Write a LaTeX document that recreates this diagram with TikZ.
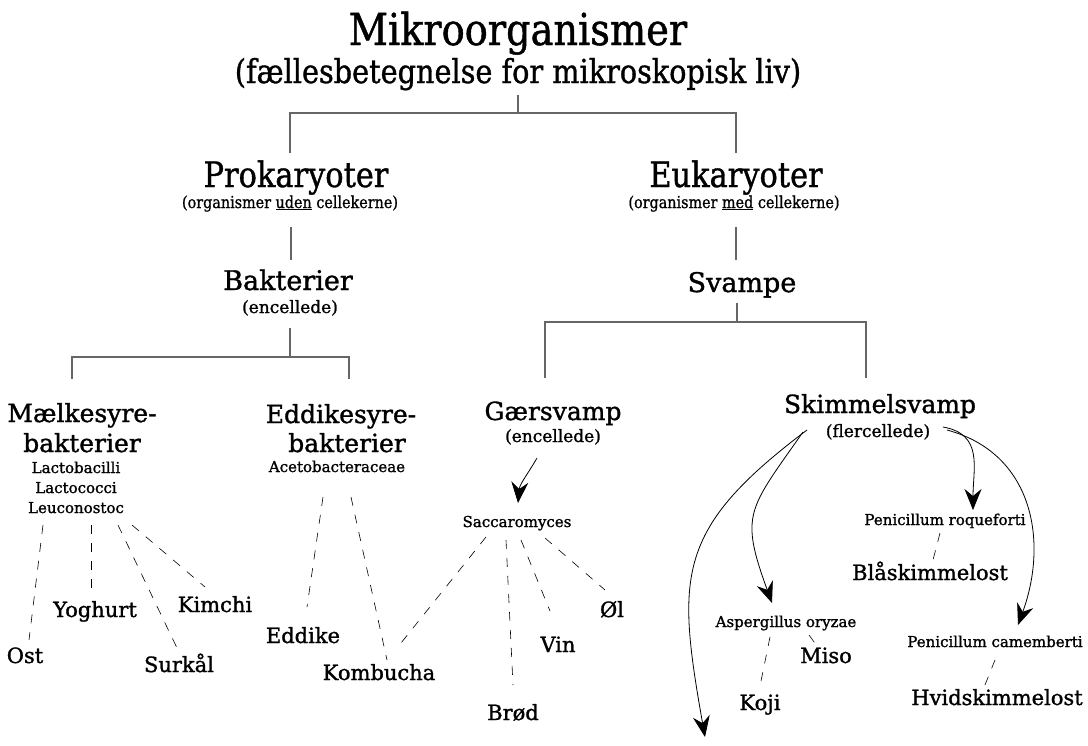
\documentclass[tikz,border=0pt]{standalone}
\usepackage{fontspec}
\setmainfont{DejaVu Serif}[FakeBold=1.3]
\newfontfamily\condserif[FakeStretch=0.87,FakeBold=1.0]{DejaVu Serif}
\usetikzlibrary{arrows.meta}

\begin{document}
\begin{tikzpicture}[x=1pt, y=1pt, every node/.style={inner sep=1pt},
		titel/.style={anchor=base, font=\condserif\fontsize{44}{50}\selectfont},
		titelsub/.style={anchor=base, font=\condserif\fontsize{33}{38}\selectfont},
		rige/.style={anchor=base, font=\condserif\fontsize{35}{40}\selectfont},
		rigesub/.style={anchor=base, font=\condserif\fontsize{16.5}{20}\selectfont},
		klasse/.style={anchor=base, font=\fontsize{27}{32}\selectfont},
		gruppe/.style={anchor=base, font=\fontsize{25}{30}\selectfont},
		gruppesub/.style={anchor=base, font=\fontsize{17}{20}\selectfont},
		art/.style={anchor=base, font=\fontsize{15}{18}\selectfont},
		mad/.style={anchor=base, font=\fontsize{21}{25}\selectfont},
		tree/.style={draw=black!60, line width=1.3pt},
		pil/.style={draw, line width=0.8pt, -{Stealth[length=21pt,width=17pt,inset=7pt]}},
		stiplet/.style={draw, line width=0.6pt, dash pattern=on 9pt off 9pt}]
		\useasboundingbox (0,0) rectangle (1088,-745);

		% overskrift
		\node[titel] (mikro) at (518,-45) {Mikroorganismer};
		\node[titelsub] (mikrosub) at (518,-83) {(fællesbetegnelse for mikroskopisk liv)};

		\node[rige] (prok) at (296,-187) {Prokaryoter};
		\node[rigesub] (proksub) at (290,-208) {(organismer \underline{uden} cellekerne)};
		\node[rige] (euk) at (736,-187) {Eukaryoter};
		\node[rigesub] (euksub) at (734,-208) {(organismer \underline{med} cellekerne)};

		\node[klasse] (bakt) at (288,-290) {Bakterier};
		\node[gruppesub] (baktsub) at (290,-313) {(encellede)};
		\node[klasse] (svampe) at (742,-292) {Svampe};

		% bakterier
		\node[gruppe] (maelk1) at (82,-422) {Mælkesyre-};
		\node[gruppe] (maelk2) at (82,-452) {bakterier};
		\node[art] (lacto1) at (76,-473) {Lactobacilli};
		\node[art] (lacto2) at (76,-493) {Lactococci};
		\node[art] (leuco) at (76,-513) {Leuconostoc};

		\node[gruppe] (eddik1) at (341,-423) {Eddikesyre-};
		\node[gruppe] (eddik2) at (347,-452) {bakterier};
		\node[art] (aceto) at (337,-472) {Acetobacteraceae};

		% svampe
		\node[gruppe] (gaer) at (553,-420) {Gærsvamp};
		\node[gruppesub] (gaersub) at (553,-442) {(encellede)};
		\node[art] (sacc) at (517,-527) {Saccaromyces};

		\node[gruppe] (skim) at (880,-413) {Skimmelsvamp};
		\node[gruppesub] (skimsub) at (878,-437) {(flercellede)};
		\node[art] (roq) at (945,-525) {Penicillum roqueforti};
		\node[art] (asp) at (786,-627) {Aspergillus oryzae};
		\node[art] (cam) at (995,-647) {Penicillum camemberti};
		\coordinate (ende) at (705,-737);

		% produkter
		\node[mad] (ost) at (25,-663) {Ost};
		\node[mad] (yog) at (95,-617) {Yoghurt};
		\node[mad] (kim) at (215,-612) {Kimchi};
		\node[mad] (sur) at (179,-672) {Surkål};
		\node[mad] (eddike) at (303,-643) {Eddike};
		\node[mad] (komb) at (379,-680) {Kombucha};
		\node[mad] (brod) at (513,-720) {Brød};
		\node[mad] (vin) at (558,-652) {Vin};
		\node[mad] (oel) at (612,-617) {Øl};
		\node[mad] (blaa) at (930,-580) {Blåskimmelost};
		\node[mad] (miso) at (826,-663) {Miso};
		\node[mad] (koji) at (760,-710) {Koji};
		\node[mad] (hvid) at (997,-705) {Hvidskimmelost};

		% stamtrae
		\draw[tree] ([yshift=-12pt]mikrosub.base) -- ++(0,-18) coordinate (split1);
		\draw[tree] ([xshift=-6pt,yshift=34pt]prok.base) |- (split1) -| ([yshift=34pt]euk.base);
		\draw[tree] ([xshift=1pt,yshift=-19pt]proksub.base) -- ([xshift=3pt,yshift=30pt]bakt.base);
		\draw[tree] ([xshift=2pt,yshift=-19pt]euksub.base) -- ([xshift=-6pt,yshift=32pt]svampe.base);
		\draw[tree] (baktsub.base) ++(0,-15) -- ++(0,-29) coordinate (split2);
		\draw[tree] ([xshift=-10pt,yshift=43pt]maelk1.base) |- (split2) -| ([xshift=8pt,yshift=44pt]eddik1.base);
		\draw[tree] ([xshift=-5pt,yshift=-11pt]svampe.base) -- ++(0,-19) coordinate (split3);
		\draw[tree] ([xshift=-8pt,yshift=42pt]gaer.base) |- (split3) -| ([xshift=-14pt,yshift=35pt]skim.base);

		% pile
		\draw[pil] ([xshift=-16pt,yshift=-16pt]gaersub.base) to[out=240, in=85] ([xshift=1pt,yshift=24pt]sacc.base);
		\draw[pil] ([xshift=-71pt,yshift=7pt]skimsub.base) to[out=217, in=100, looseness=1.3] (ende);
		\draw[pil] ([xshift=-75pt,yshift=5pt]skimsub.base) to[out=235, in=110, looseness=1.4] ([xshift=-14pt,yshift=24pt]asp.base);
		\draw[pil] ([xshift=65pt,yshift=10pt]skimsub.base) to[out=-10, in=90, looseness=1.2] ([xshift=28pt,yshift=15pt]roq.base);
		\draw[pil] ([xshift=69pt,yshift=7pt]skimsub.base) to[out=-15, in=70, looseness=1.1] ([xshift=23pt,yshift=22pt]cam.base);

		% stiplede forbindelser
		\draw[stiplet] ([xshift=-33pt,yshift=-12pt]leuco.base) -- ([xshift=4pt,yshift=23pt]ost.base);
		\draw[stiplet] ([xshift=15pt,yshift=-12pt]leuco.base) -- ([xshift=-4pt,yshift=25pt]yog.base);
		\draw[stiplet] ([xshift=42pt,yshift=-12pt]leuco.base) -- ([xshift=-2pt,yshift=24pt]sur.base);
		\draw[stiplet] ([xshift=56pt,yshift=-12pt]leuco.base) -- ([xshift=-10pt,yshift=25pt]kim.base);
		\draw[stiplet] ([xshift=-14pt,yshift=-25pt]aceto.base) -- ([xshift=4pt,yshift=36pt]eddike.base);
		\draw[stiplet] ([xshift=14pt,yshift=-25pt]aceto.base) -- ([xshift=8pt,yshift=20pt]komb.base);
		\draw[stiplet] ([xshift=-31pt,yshift=-10pt]sacc.base) -- ([xshift=18pt,yshift=32pt]komb.base);
		\draw[stiplet] ([xshift=-11pt,yshift=-13pt]sacc.base) -- ([xshift=0pt,yshift=35pt]brod.base);
		\draw[stiplet] ([xshift=4pt,yshift=-13pt]sacc.base) -- ([xshift=-8pt,yshift=41pt]vin.base);
		\draw[stiplet] ([xshift=28pt,yshift=-11pt]sacc.base) -- ([xshift=-7pt,yshift=27pt]oel.base);
		\draw[stiplet] ([xshift=-5pt,yshift=-8pt]roq.base) -- ([xshift=3pt,yshift=20pt]blaa.base);
		\draw[stiplet] ([xshift=-16pt,yshift=-10pt]asp.base) -- ([xshift=0pt,yshift=24pt]koji.base);
		\draw[stiplet] ([xshift=23pt,yshift=-8pt]asp.base) -- ([xshift=-9pt,yshift=17pt]miso.base);
		\draw[stiplet] ([xshift=0pt,yshift=-13pt]cam.base) -- ([xshift=-12pt,yshift=20pt]hvid.base);
	\end{tikzpicture}
\end{document}
